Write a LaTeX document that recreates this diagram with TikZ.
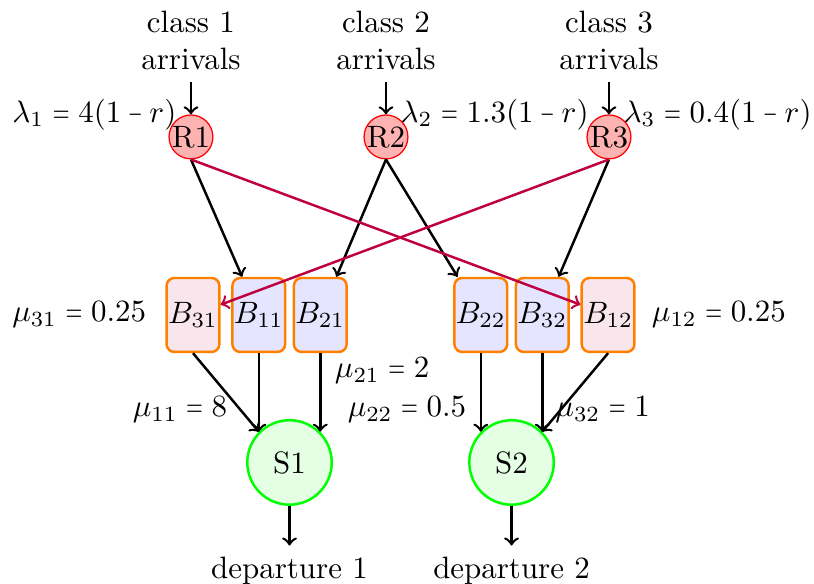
\documentclass[tikz,border=0pt]{standalone}
\colorlet{colorRouter}{red}
\colorlet{colorBuffer}{orange}
\colorlet{colorServer}{green}
\colorlet{colorReroute}{purple}
\usetikzlibrary{arrows, positioning}
\newcommand{\req}{\mathrel{\scalebox{0.7}[1]{$=$}}}
\newcommand{\rminus}{\mathbin{\scalebox{0.6}[1]{$-$}}}
\tikzset{
  router/.style={circle, draw=colorRouter, fill=colorRouter!30, thin, inner sep=0pt},
  buffer/.style={rectangle, rounded corners=2.5pt, draw=colorBuffer, thick, minimum width=0.58cm, minimum height=0.84cm, inner sep=0.5pt},
  server/.style={circle, draw=colorServer, fill=colorServer!10, thick, minimum size=0.96cm}
}

\begin{document}
\begin{tikzpicture}[>=to, thick, node distance=0.12cm]
\useasboundingbox (0,0) rectangle (9.25,6.636);
\node[router] (R1) at (2.170,5.080) {R1};
\node[router] (R2) at (4.386,5.080) {R2};
\node[router] (R3) at (6.920,5.080) {R3};
\node[align=center, above=0.37cm of R1] (A1) {class 1\\arrivals};
\node[align=center, above=0.37cm of R2] (A2) {class 2\\arrivals};
\node[align=center, above=0.37cm of R3] (A3) {class 3\\arrivals};
\node[server] (S1) at (3.290,1.381) {S1};
\node[server] (S2) at (5.813,1.381) {S2};
\node[below=0.45cm of S1] (D1) {departure 1};
\node[below=0.45cm of S2] (D2) {departure 2};
\node[buffer, fill=blue!10] (B11) at (S1.north west |- 0,3.057) {$B_{11}$};
\node[buffer, fill=blue!10] (B21) at (S1.north east |- 0,3.057) {$B_{21}$};
\node[buffer, fill=colorReroute!10, left=of B11] (B31) {$B_{31}$};
\node[buffer, fill=blue!10] (B22) at (S2.north west |- 0,3.057) {$B_{22}$};
\node[buffer, fill=blue!10] (B32) at (S2.north east |- 0,3.057) {$B_{32}$};
\node[buffer, fill=colorReroute!10, right=of B32] (B12) {$B_{12}$};
\node[left=2.5pt of B31] (m31) {$\mu_{31} \req 0.25$};
\node[right=1.5pt of B12] (m12) {$\mu_{12} \req 0.25$};
% arrivals
\draw [->] (A1) -- node [pos=1, left=1pt] {$\lambda_{1} \req 4(1 \rminus r)$} (R1);
\draw [->] (A2) -- node [pos=1, right=1pt] {$\lambda_{2} \req 1.3(1 \rminus r)$} (R2);
\draw [->] (A3) -- node [pos=1, right=1pt] {$\lambda_{3} \req 0.4(1 \rminus r)$} (R3);
% routing
\draw [->] (R1.south) -- (B11);
\draw [->] (R2.south) -- (B21);
\draw [->] (R2.south) -- (B22);
\draw [->] (R3.south) -- (B32);
\draw [->, colorReroute] (R1.south) -- (B12);
\draw [->, colorReroute] (R3.south) -- (B31);
% service
\draw [->] (B31.south) -- (S1.north west);
\draw [->] (B11.south) -- node [pos=0.72, left=6.5pt] {$\mu_{11} \req 8$} (S1.north west);
\draw [->] (B21.south) -- node [pos=0.22, right=1pt] {$\mu_{21} \req 2$} (S1.north east);
\draw [->] (B22.south) -- node [pos=0.72, left=1pt] {$\mu_{22} \req 0.5$} (S2.north west);
\draw [->] (B32.south) -- node [pos=0.72, right=0.5pt] {$\mu_{32} \req 1$} (S2.north east);
\draw [->] (B12.south) -- (S2.north east);
\draw [->] (S1) -- (D1);
\draw [->] (S2) -- (D2);
\end{tikzpicture}
\end{document}
